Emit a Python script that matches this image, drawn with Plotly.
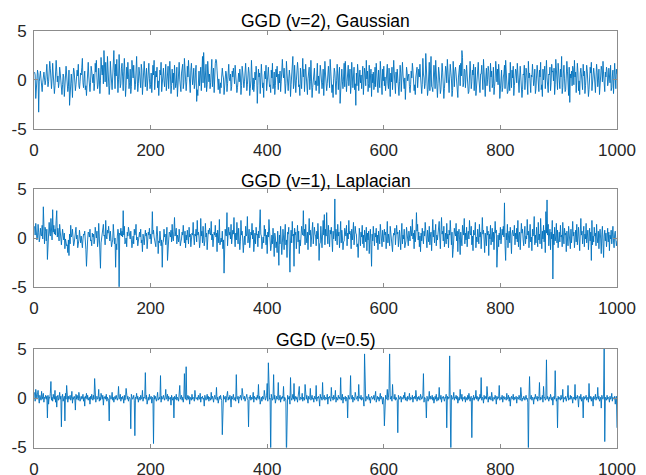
import plotly.graph_objects as go

# Sample values, stored in tenths (e.g. 12 -> 1.2)
gauss_tenths = [
8,5,-19,-4,3,10,6,-33,-2,7,9,1,-6,-12,-3,4,8,2,-5,-1,
11,16,3,-7,-2,5,19,12,-4,-9,1,17,6,-3,-14,-6,2,20,9,-2,
4,-8,-3,13,7,0,-11,-15,-5,6,3,-17,-4,8,14,5,-2,-12,-7,10,
-26,-9,1,6,-4,-18,3,12,8,-1,-11,-5,2,10,4,16,-6,-9,-2,7,
5,13,22,-3,-8,1,9,-10,-6,-16,2,7,18,4,-5,-12,-3,14,9,0,
-3,6,-11,-4,17,8,20,2,-9,-5,12,3,-14,-1,23,11,5,15,-4,30,
9,-2,18,6,-7,24,10,1,-15,-6,19,7,-5,-10,3,14,30,8,-9,16,
4,21,-6,-13,0,26,7,-8,-4,12,17,3,-11,9,22,5,-17,-6,13,1,
18,6,-9,-3,11,-14,-7,20,8,2,15,-1,-10,-5,9,24,3,-12,-4,13,
7,-4,-8,16,10,-15,-6,2,19,6,-7,4,12,-11,-3,8,17,1,-9,-5,
7,-13,-2,15,5,20,-10,-4,9,3,13,-8,-1,-16,-6,10,5,18,-12,-3,
6,12,-1,-7,3,16,-11,-2,8,14,-9,1,19,5,-14,-6,11,-3,7,-10,
15,2,-8,-4,13,-17,-5,9,18,0,-6,-12,7,11,16,-9,-3,22,4,8,
-11,-2,14,3,20,7,-7,-13,10,17,6,-5,1,12,-9,-4,8,15,-22,-10,
-16,5,9,-6,2,13,-11,7,24,-3,28,10,-8,4,16,-12,-5,19,11,-2,
6,-9,-3,14,21,-7,3,12,-13,8,17,21,20,10,-4,-10,1,-6,-14,-3,
-8,4,12,5,2,-15,-7,-3,9,6,-12,-4,10,16,2,-1,6,-11,-7,9,
3,12,1,-4,15,6,-3,-13,-8,5,7,-2,11,4,-15,-6,14,8,-1,-8,
-2,10,17,4,-11,-5,3,13,7,-16,-9,-1,20,6,-10,2,-12,-5,8,0,
14,5,-24,-6,11,3,7,-14,-2,16,4,-8,-3,-18,5,9,1,15,-11,-4,
6,13,2,-7,-5,-13,10,2,17,-9,-4,8,-15,-6,11,3,14,0,-10,6,
-3,9,-12,-2,5,21,8,2,12,-1,-14,-4,19,7,-6,-11,1,10,3,-17,
-5,8,13,24,-9,-4,15,3,-13,-1,7,18,10,-7,-5,-16,12,2,-9,6,
22,3,11,-12,-3,16,4,-7,-15,1,9,13,-10,-2,20,5,-18,-8,3,8,
12,-5,-1,-11,7,17,-6,4,-14,-3,15,9,2,-9,-3,11,-16,-4,19,6,
0,-11,-4,9,14,2,-8,21,6,-2,-13,-5,-18,1,12,8,-6,-15,-1,16,
4,-10,5,13,-24,-5,7,11,-2,-9,3,17,-7,19,4,-12,-2,9,15,-6,
2,11,-14,-6,18,6,-8,3,13,-10,-4,-26,7,-6,16,8,-11,2,10,-3,
5,-9,-2,14,-15,-3,12,7,-6,20,1,9,-12,-4,15,-8,-1,11,-17,6,
-3,8,-10,-5,13,-7,17,4,-5,-13,10,2,-8,19,3,6,-15,11,-1,14,
-6,3,-11,-2,9,16,-4,-9,12,1,-17,7,-2,13,-10,5,20,7,0,-14,
8,-3,11,4,-8,-16,-2,15,7,-12,3,18,5,-5,-9,2,-20,-4,13,8,
-1,4,6,-7,-13,-5,9,2,17,10,-3,-11,-5,-15,3,8,13,-8,6,11,
3,16,4,-9,-14,-5,22,6,2,-9,-4,27,12,-2,-16,-10,5,18,-11,3,
24,-7,-8,-12,3,15,6,-9,20,1,-11,-18,-4,13,7,-2,-14,-10,4,17,
8,-5,-19,-9,2,14,10,-3,21,6,-12,-13,3,16,8,1,-17,-11,19,3,
-7,9,13,6,-4,-12,-18,2,9,15,-6,17,4,30,23,-7,-3,11,10,-8,
1,15,5,-8,-14,-12,3,19,7,-9,-2,10,5,16,-11,-1,13,-16,-4,9,
6,18,2,-11,-13,6,6,15,-1,-10,21,4,-8,-17,3,12,-6,0,14,9,
-5,-12,17,3,9,-8,-4,13,-15,-7,1,19,10,-2,11,-5,16,7,-19,-6,
2,10,-12,-8,3,6,15,-9,20,1,-5,-14,-12,4,7,-11,18,1,-8,10,
2,14,-16,-6,5,11,9,-3,17,7,-9,-13,2,14,3,-8,-18,-10,6,5,
15,-10,-1,12,8,-4,-15,19,2,7,-11,-13,5,3,16,9,-6,-1,11,-14,
-9,4,15,7,-2,-12,10,3,18,-10,-5,-17,11,0,6,14,-9,4,20,2,
-8,-13,6,5,13,-11,-3,16,8,9,-1,12,-15,-5,21,4,7,-10,17,6,
-2,-9,11,3,24,-14,-8,7,15,1,-12,-10,4,19,9,-3,-16,13,-23,6,
2,9,-6,14,11,-5,20,3,8,-13,-2,17,8,-11,-1,-15,7,12,5,-3,
-10,16,4,9,-14,-6,1,15,9,-4,-17,-10,2,13,7,18,-11,-5,3,12,
6,-8,-13,3,16,8,-7,-1,11,-15,-9,4,14,10,-2,19,6,-5,-12,8,
3,13,9,-6,-2,12,7,-3,15,-11,-8,4,10,-14,5,17,3,-9,11,6,
]

laplace_tenths = [
12,3,15,8,-2,1,14,6,-4,0,10,3,2,13,-1,32,5,-6,11,7,
-3,9,-22,-4,1,16,5,2,20,8,-2,29,6,13,4,9,3,18,28,1,
10,4,-3,14,2,-6,-7,1,9,3,-2,5,-11,-1,-4,-8,-7,-15,-2,-18,
4,-6,13,1,3,9,0,-8,-5,2,4,11,-1,3,-10,-6,-2,8,1,-5,
2,-7,-10,-1,4,3,7,0,-12,-29,-3,-2,6,5,1,9,-3,-2,-8,5,
1,4,-6,-2,11,3,0,7,-9,-3,15,2,-14,-31,-5,1,4,9,14,2,
3,-7,18,2,-1,8,5,12,4,-3,7,1,-9,-5,-2,14,3,-6,0,-30,
-6,-12,2,9,4,-55,5,3,10,2,7,1,28,3,12,-6,-4,0,-9,6,
2,11,5,3,-1,7,0,-10,-4,2,-6,9,3,5,14,-2,1,-8,-3,-4,
6,1,9,-5,-2,-14,4,0,-7,3,8,2,5,-11,-1,6,3,10,-1,4,
-6,2,27,4,8,1,-3,-6,-9,4,12,2,-16,-3,-5,7,0,-8,-2,-30,
-5,-3,9,1,4,-7,-2,11,-23,-3,-2,6,5,1,8,-4,14,0,-3,7,
21,2,5,10,-6,3,0,-4,9,1,-8,-4,-1,6,3,13,2,-5,7,-10,
3,-2,8,0,-6,11,1,4,-9,-2,5,3,16,1,-7,4,2,9,-4,18,
3,6,1,-10,-4,20,2,7,-5,12,0,-8,-3,15,1,5,-12,-2,8,4,
10,6,3,17,-2,4,-9,-1,6,3,13,1,5,-14,8,2,-5,19,-7,-3,
0,-4,7,-11,-2,-36,-5,9,3,2,26,-8,4,11,3,6,-1,14,-6,2,
8,4,21,1,-9,5,-2,16,3,-6,10,0,-12,-4,18,3,7,-1,-15,-5,
2,-7,12,2,4,22,-5,1,9,-10,-3,6,3,15,-1,8,-14,-2,5,-6,
11,3,4,-9,7,0,16,29,4,2,-11,-6,1,-5,13,2,9,-7,3,-16,
6,1,19,4,2,-13,-8,3,-6,10,-2,-19,5,1,-10,-4,-15,7,-8,-28,
3,-6,12,2,-17,-5,9,1,-12,4,14,-7,-2,-20,6,4,11,-9,-35,-3,
8,-5,17,2,4,-29,10,3,6,-11,1,13,-4,7,-16,-2,-8,5,12,6,
3,28,2,9,-7,14,1,-5,6,-12,4,20,3,8,-9,2,-1,16,-6,5,
11,4,2,-8,7,-1,15,3,-23,-6,-5,12,0,-10,4,18,3,24,-7,9,
2,26,4,-6,13,1,-9,8,4,11,3,-14,7,-1,5,40,-3,9,2,-7,
14,2,6,-10,3,17,-5,8,1,-12,-4,-3,10,6,2,13,-8,5,-1,18,
4,7,3,-11,9,-2,5,16,-7,1,12,5,4,-9,-6,-20,2,10,3,-8,
6,1,13,-6,3,-10,8,2,-4,11,-13,5,-2,7,-16,-1,9,-7,-29,4,
-3,12,2,-8,5,1,10,-5,3,-12,7,0,-6,14,2,4,-9,8,1,-4,
9,3,6,-11,2,17,-5,4,-1,-8,12,3,-6,-7,-14,1,5,3,10,-7,
2,13,4,6,-9,1,8,-2,-12,4,15,-6,3,-1,9,-10,-5,-3,11,5,
4,-8,7,1,-3,12,6,2,19,-1,5,-11,8,-4,3,26,7,14,-2,6,
-9,2,-14,5,-3,10,1,-6,7,2,16,5,3,-10,8,0,-4,12,-7,2,
6,-13,4,19,1,8,-5,2,14,-8,3,-2,9,6,17,1,-11,5,21,4,
7,-3,12,-9,2,5,-6,15,-1,4,-10,8,3,18,1,-7,6,-20,-12,3,
10,5,2,15,-3,7,-14,4,9,-2,-17,6,1,-8,13,4,3,20,-6,5,
-2,11,-9,4,7,-1,18,5,3,12,-7,2,-13,8,3,5,16,-10,1,-4,
9,2,-6,14,1,6,-11,3,21,4,8,-2,-15,5,1,-8,12,3,7,-18,
4,-1,13,-7,2,10,-4,6,-12,1,17,5,8,-30,-14,3,-9,5,-2,11,
-6,4,9,3,12,1,36,-8,-23,5,-2,14,-10,3,7,-5,11,-1,-16,4,
8,3,2,13,-7,5,-1,10,-4,18,-9,3,6,-12,1,15,5,9,-2,-8,
4,12,-6,2,-1,19,3,7,-10,5,14,-4,1,-13,9,2,6,22,-7,3,
-5,11,1,-9,16,-2,4,-6,20,3,-11,7,-1,13,-4,8,-15,27,5,39,
3,14,-8,2,9,-12,6,-1,18,-42,4,-7,11,-3,2,15,-5,8,-10,1,
6,-4,13,1,3,-9,16,2,-6,10,3,5,-14,7,1,-8,12,2,4,-11,
9,-5,3,17,2,6,-10,1,8,-4,14,-7,2,11,-1,-13,5,20,3,7,
-6,2,12,-9,4,-1,15,-5,3,8,-12,1,10,-3,6,-23,18,-7,2,-4,
11,2,5,-8,14,1,-5,7,-11,3,9,-1,-16,4,12,-6,-20,2,8,-3,
5,-9,1,10,-4,6,-13,3,-1,8,-6,2,12,-3,-10,4,7,-2,-8,-3,
]

ggd05_tenths = [
6,-3,9,2,-1,4,8,0,-5,3,1,-2,7,-1,2,5,-4,1,0,3,
-1,2,-20,3,-6,1,0,5,17,-2,1,-3,4,0,-1,8,-4,2,-9,1,
3,-2,0,6,-1,2,-29,1,4,-3,0,2,-23,5,-1,13,0,-4,2,-1,
1,3,-2,0,7,-5,1,-1,2,0,-12,4,-1,3,0,-2,6,1,-3,0,
2,-1,0,4,-3,1,-8,2,0,5,-1,3,-2,0,1,-6,2,-1,4,0,
-2,3,-1,20,0,-4,1,2,-1,0,9,-3,1,-2,5,0,-1,3,-7,1,
0,2,-1,4,-3,1,0,-2,-23,3,1,-1,0,6,-2,1,-4,0,2,-1,
3,0,-2,1,12,-1,0,4,-3,1,-1,2,0,-5,3,-2,1,10,0,-1,
2,-3,0,1,-1,-31,4,2,-1,0,3,-2,-38,1,0,5,-1,2,-4,0,
1,-2,3,0,-1,8,-3,1,0,2,26,-1,3,-6,0,1,-2,4,-1,0,
2,-5,1,0,-46,3,-1,2,0,-3,1,6,-2,0,1,-1,23,-4,2,0,
-1,3,0,-2,1,9,-1,0,4,-3,2,-1,0,1,-7,3,0,-2,1,-20,
2,0,-1,4,-2,1,0,-3,2,13,-1,0,3,-2,1,-4,0,25,1,-1,
32,-2,0,3,-1,2,-6,1,0,-2,4,-1,1,0,-3,8,2,-1,0,1,
-2,3,0,-1,5,-4,1,0,2,-1,0,-8,3,1,-2,0,4,-1,2,-3,
1,0,-2,6,-1,2,0,-4,1,3,-1,0,11,-2,1,-5,0,2,-1,3,
0,-2,-37,1,3,-1,0,2,-4,1,0,7,-2,1,-1,3,0,-9,2,-1,
1,4,-2,0,1,-3,24,0,-1,2,-5,1,0,3,-1,-2,10,1,0,-1,
2,-3,1,0,4,-1,-2,-29,1,0,3,-2,1,-1,0,6,-4,2,0,-1,
1,-2,3,0,14,-1,2,-6,0,1,-3,2,0,-1,8,1,-2,0,3,15,
-3,36,2,-1,0,-60,4,1,-2,0,24,-1,3,-5,0,2,-1,1,16,-2,
0,3,-4,1,-1,2,0,12,-3,1,0,-2,-60,1,3,-1,0,2,-6,21,
1,-2,0,4,-1,15,-3,0,2,-1,1,-4,0,3,12,-2,1,0,-1,5,
-3,1,0,-2,14,1,-1,3,0,-5,2,-1,0,10,-2,1,3,-1,0,-4,
2,0,-1,13,-3,1,0,2,-1,-8,4,0,1,-2,16,-1,0,3,-2,1,
0,-1,4,-6,1,0,2,-1,-3,11,0,1,-2,3,-1,0,8,-4,1,0,
-2,3,0,1,-1,21,-2,0,4,-5,1,-1,0,2,-3,1,0,-20,3,0,
-1,2,23,-1,0,3,-4,1,0,-2,6,1,-1,0,2,-3,14,0,1,-1,
3,-2,0,1,-1,-8,45,1,-3,0,2,-1,0,4,-2,1,-5,0,2,1,
-1,0,3,-2,1,7,-4,0,2,-1,1,-3,0,5,-1,2,0,-6,1,-2,
-28,1,3,-1,0,9,-2,1,10,45,-1,0,2,-3,14,1,0,-1,4,-2,
1,0,-2,-35,3,1,-1,0,2,-4,1,0,-1,3,0,6,-2,1,0,-3,
2,-1,0,5,-2,1,0,-1,3,-4,1,0,2,-1,8,0,-3,1,-1,2,
0,-2,4,1,-1,0,3,25,-4,1,0,-1,-20,2,1,-3,0,7,-1,2,
-1,0,3,-2,1,-5,0,2,-1,4,-3,0,1,-2,11,0,-1,3,-4,1,
0,2,-1,-3,1,0,4,-30,2,-1,1,0,43,-2,-60,3,1,-1,0,6,
-2,1,0,3,-1,2,-5,0,1,-2,9,0,-1,4,-3,1,0,-1,2,-4,
1,0,-2,3,-1,5,0,-3,1,2,-40,0,-1,3,-2,1,0,8,-1,2,
0,-3,1,-1,4,0,21,-2,1,0,-5,3,-1,0,2,-1,12,0,-4,1,
-1,2,0,-2,6,1,-3,0,1,-1,3,0,-6,2,-1,1,0,13,-2,0,
1,-1,3,-4,0,2,-1,1,0,-2,5,-1,0,3,-3,1,-8,0,2,-1,
0,4,-2,1,-1,0,2,-5,1,0,-1,3,0,-2,11,1,-3,0,-1,2,
1,-2,0,3,-1,0,-4,-60,2,22,-1,0,3,-2,1,0,-6,1,-1,4,
0,-1,2,-3,1,0,16,-2,1,-1,0,3,-4,12,0,1,-2,0,39,-1,
2,0,-3,1,-1,4,0,-2,1,-7,0,2,-1,28,1,-3,0,-30,2,-1,
1,0,-2,3,-1,0,9,-4,1,0,-1,2,-3,0,1,13,-2,0,-1,3,
-1,2,0,-5,1,0,-1,14,-2,1,0,3,-1,-9,2,0,-1,4,-3,1,
0,-20,2,-1,1,0,3,-2,0,1,-4,15,0,-1,2,-3,1,0,-8,2,
-1,0,4,-2,1,0,11,-1,2,-3,0,1,-10,3,0,-1,2,55,-44,1,
0,-2,3,-1,1,0,-4,2,-1,0,5,-3,1,0,-1,2,-6,0,2,-30,
]

titles = ["GGD (v=2), Gaussian", "GGD (v=1), Laplacian", "GGD (v=0.5)"]
x_ticks = [0, 200, 400, 600, 800, 1000]
x_tick_labels = ["0", "200", "400", "600", "800", "1000"]
y_ticks = [-5, 0, 5]
y_tick_labels = ["-5", "0", "5"]

series = [gauss_tenths, laplace_tenths, ggd05_tenths]

W, H = 646, 475
LINE = "#0072BD"
AX = "#8c8c8c"
TXT = "#262626"
FONT = "Liberation Sans, Arial, Helvetica, sans-serif"

# pixel boxes (top, bottom) of each axes
boxes = [(31, 128.8), (189.2, 286.8), (349, 447.5)]
title_base = [26, 186, 344.5]
x0_px, x1_px = 34, 617

fig = go.Figure()
layout = dict(
    width=W, height=H,
    margin=dict(l=0, r=0, t=0, b=0, autoexpand=False),
    paper_bgcolor="white", plot_bgcolor="white",
    showlegend=False,
    font=dict(family=FONT, size=17, color=TXT),
    annotations=[],
)

for i, vals in enumerate(series):
    n = i + 1
    xs = list(range(1, len(vals) + 1))
    ys = [v / 10 for v in vals]
    xa = "x" if n == 1 else f"x{n}"
    ya = "y" if n == 1 else f"y{n}"
    fig.add_trace(go.Scatter(x=xs, y=ys, mode="lines", xaxis=xa, yaxis=ya,
                             line=dict(color=LINE, width=0.9), hoverinfo="skip"))
    top, bot = boxes[i]
    common = dict(showgrid=False, zeroline=False, showline=True, linecolor=AX,
                  linewidth=1, mirror="ticks", ticks="inside", ticklen=4,
                  tickwidth=1, tickcolor=AX,
                  tickfont=dict(family=FONT, size=17, color=TXT))
    layout["xaxis" if n == 1 else f"xaxis{n}"] = dict(
        domain=[x0_px / W, x1_px / W], range=[0, 1000], anchor=ya,
        tickvals=x_ticks, ticktext=x_tick_labels, ticklabelstandoff=6, **common)
    layout["yaxis" if n == 1 else f"yaxis{n}"] = dict(
        domain=[1 - bot / H, 1 - top / H], range=[-5, 5], anchor=xa,
        tickvals=y_ticks, ticktext=y_tick_labels, ticklabelstandoff=3, **common)
    layout["annotations"].append(dict(
        text=titles[i], xref="paper", yref="paper",
        x=(x0_px + x1_px) / 2 / W, y=1 - (title_base[i] + 7) / H,
        xanchor="center", yanchor="bottom", showarrow=False,
        font=dict(family=FONT, size=17.5, color="#000000")))

fig.update_layout(**layout)
fig.write_html("out.html", config={"displayModeBar": False},
               post_script="document.body.style.margin='0';document.body.style.overflow='hidden';")
